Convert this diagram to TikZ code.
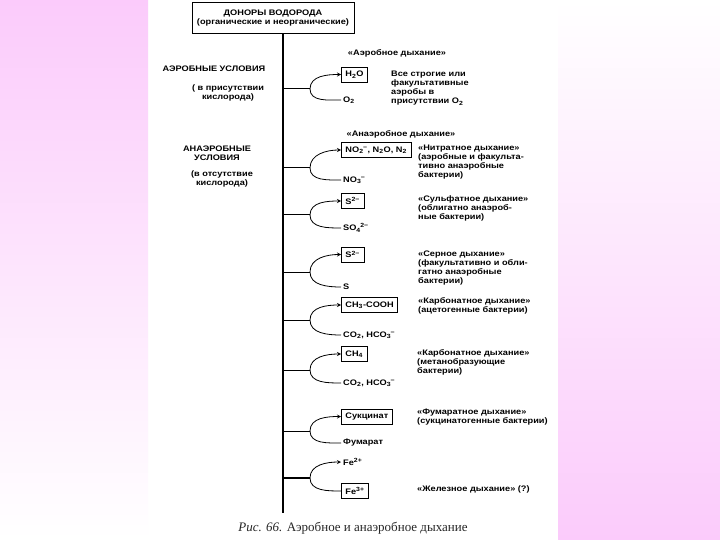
\documentclass[tikz,border=0pt]{standalone}
\usepackage{fontspec}
\setmainfont{Liberation Sans}
\newfontfamily\diagfont[FakeStretch=1.15]{Liberation Sans}
\newfontfamily\capfont{Liberation Serif}
\usetikzlibrary{arrows, positioning, calc}
\definecolor{pinkbg}{RGB}{251,203,251}
\newcommand{\ionsfx}[2]{\textsubscript{#1}\kern-0.5pt\textsuperscript{#2}}
\tikzset{
    donor/.style={rectangle, draw=black, line width=1pt, minimum width=162pt,
        minimum height=31pt, text centered, align=center},
    product/.style={rectangle, draw=black, line width=0.9pt, anchor=west,
        minimum height=15pt, inner xsep=4pt},
    substrate/.style={anchor=west, inner sep=2pt},
    descr/.style={anchor=north west, align=left, inner sep=0pt},
    condition/.style={align=center, inner sep=0pt},
    mainline/.style={line width=1.3pt},
    branch/.style={line width=1pt},
    curve/.style={line width=0.8pt},
    arrow/.style={line width=0.8pt, ->, >=stealth}
}

\begin{document}
\begin{tikzpicture}[x=1pt, y=-1pt, font=\diagfont\fontsize{8}{9}\selectfont\bfseries]
\useasboundingbox (0,0) rectangle (720,540);
\fill[white] (0,0) rectangle (720,540);
\shade[top color=pinkbg, middle color=pinkbg!60, bottom color=white] (0,0) rectangle (148,540);
\shade[top color=white, middle color=pinkbg!50, bottom color=pinkbg] (558,0) rectangle (720,540);

\node[donor] (donor) at (273,18.5) {ДОНОРЫ ВОДОРОДА\\(органические и неорганические)};
\coordinate (mend) at (283,513);
\draw[mainline] (donor.south -| mend) -- (mend);

\node[condition] (aerob) at (214,69) {АЭРОБНЫЕ УСЛОВИЯ};
\node[condition] (aerobo2) at (228,92.5) {( в присутствии\\кислорода)};
\node[condition] (anaerob) at (217,153) {АНАЭРОБНЫЕ\\УСЛОВИЯ};
\node[condition] (anaerobo2) at (222,179) {(в отсутствие\\кислорода)};
\node[condition] (aerobhead) at (397,53) {«Аэробное дыхание»};
\node[condition] (anaerobhead) at (401,134) {«Анаэробное дыхание»};

\coordinate (j1) at (283,89);
\coordinate (b1) at (310,89);
\node[product] (p1) at (341,74.5) {H\textsubscript{2}O};
\node[substrate] (s1) at (341,100) {O\textsubscript{2}};
\node[descr] (d1) at (391,71) {Все строгие или\\факультативные\\аэробы в\\присутствии O\textsubscript{2}};

\coordinate (j2) at (283,168);
\coordinate (b2) at (310,168);
\node[product] (p2) at (341,150) {NO\ionsfx{2}{−}, N\textsubscript{2}O, N\textsubscript{2}};
\node[substrate] (s2) at (341,180) {NO\ionsfx{3}{−}};
\node[descr] (d2) at (418,145) {«Нитратное дыхание»\\(аэробные и факульта-\\тивно анаэробные\\бактерии)};

\coordinate (j3) at (283,215);
\coordinate (b3) at (310,215);
\node[product] (p3) at (341,201) {S\textsuperscript{2−}};
\node[substrate] (s3) at (341,228) {SO\ionsfx{4}{2−}};
\node[descr] (d3) at (418,196) {«Сульфатное дыхание»\\(облигатно анаэроб-\\ные бактерии)};

\coordinate (j4) at (283,272);
\coordinate (b4) at (310,272);
\node[product] (p4) at (341,254.5) {S\textsuperscript{2−}};
\node[substrate] (s4) at (341,287) {S};
\node[descr] (d4) at (418,251) {«Серное дыхание»\\(факультативно и обли-\\гатно анаэробные\\бактерии)};

\coordinate (j5) at (283,320);
\coordinate (b5) at (310,320);
\node[product] (p5) at (341,305) {CH\textsubscript{3}-COOH};
\node[substrate] (s5) at (341,335) {CO\textsubscript{2}, HCO\ionsfx{3}{−}};
\node[descr] (d5) at (418,297) {«Карбонатное дыхание»\\(ацетогенные бактерии)};

\coordinate (j6) at (283,370);
\coordinate (b6) at (310,370);
\node[product] (p6) at (341,354) {CH\textsubscript{4}};
\node[substrate] (s6) at (341,383) {CO\textsubscript{2}, HCO\ionsfx{3}{−}};
\node[descr] (d6) at (417,349) {«Карбонатное дыхание»\\(метанобразующие\\бактерии)};

\coordinate (j7) at (283,431);
\coordinate (b7) at (310,431);
\node[product] (p7) at (341,416.5) {Сукцинат};
\node[substrate] (s7) at (341,443) {Фумарат};
\node[descr] (d7) at (417,409) {«Фумаратное дыхание»\\(сукцинатогенные бактерии)};

\coordinate (j8) at (283,478);
\coordinate (b8) at (310,478);
\node[substrate] (s8) at (341,462) {Fe\textsuperscript{2+}};
\node[product] (p8) at (341,491) {Fe\textsuperscript{3+}};
\node[descr] (d8) at (417,485) {«Железное дыхание» (?)};

\draw[branch] (j1) -- (b1);
\draw[arrow] (b1) to[out=90, in=180] (p1.west);
\draw[curve] (b1) to[out=-90, in=180] (s1.west);
\draw[branch] (j2) -- (b2);
\draw[arrow] (b2) to[out=90, in=180] (p2.west);
\draw[curve] (b2) to[out=-90, in=180] (s2.west);
\draw[branch] (j3) -- (b3);
\draw[arrow] (b3) to[out=90, in=180] (p3.west);
\draw[curve] (b3) to[out=-90, in=180] (s3.west);
\draw[branch] (j4) -- (b4);
\draw[arrow] (b4) to[out=90, in=180] (p4.west);
\draw[curve] (b4) to[out=-90, in=180] (s4.west);
\draw[branch] (j5) -- (b5);
\draw[arrow] (b5) to[out=90, in=180] (p5.west);
\draw[curve] (b5) to[out=-90, in=180] (s5.west);
\draw[branch] (j6) -- (b6);
\draw[arrow] (b6) to[out=90, in=180] (p6.west);
\draw[curve] (b6) to[out=-90, in=180] (s6.west);
\draw[branch] (j7) -- (b7);
\draw[arrow] (b7) to[out=90, in=180] (p7.west);
\draw[curve] (b7) to[out=-90, in=180] (s7.west);
\draw[branch, line width=1.5pt] (j8) -- (b8);
\draw[arrow] (b8) to[out=90, in=180] (s8.west);
\draw[curve] (b8) to[out=-90, in=180] (p8.west);

\node[inner sep=0pt] (caption) at (353,528) {\capfont\mdseries\fontsize{13}{15}\selectfont\color{black!85}\textit{Рис. 66.} Аэробное и анаэробное дыхание};
\end{tikzpicture}
\end{document}
